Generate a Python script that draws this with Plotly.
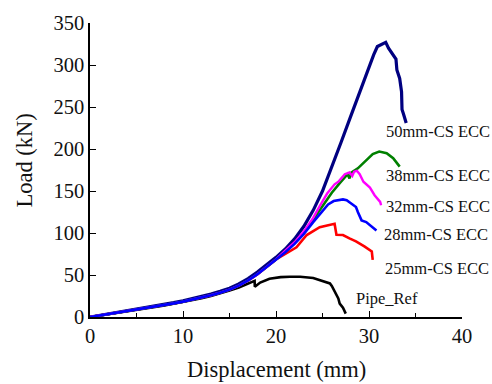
import plotly.graph_objects as go

SERIF = "Liberation Serif, Times New Roman, serif"

# Shared loading branch (displacement mm, load kN) before the specimens diverge
base_disp = [0, 1, 2, 3, 4, 5, 6, 7, 8, 9, 10, 11, 12, 13, 14, 15, 16, 17, 18, 19, 20]
base_load = [0, 1.7, 3.4, 5.1, 6.8, 8.6, 10.4, 12.3, 14.2, 16.2, 18.3, 20.6, 23.1, 25.9, 29.0,
             32.6, 37.3, 43.5, 51, 59.5, 68.5]

# The 50 mm specimen rides on the upper edge of the bundle
cs50_disp = [0, 1, 2, 3, 4, 5, 6, 7, 8, 9, 10, 11, 12, 13, 14, 15, 16, 17, 18, 19, 20, 21, 22, 23, 24,
             25, 26, 27, 28, 29, 30, 30.5, 30.9, 31.4, 31.8, 32.1, 32.5, 32.9, 33.0, 33.3, 33.5, 33.55,
             33.7, 34.0]
cs50_load = [0, 1.8, 3.6, 5.4, 7.2, 9.1, 11.0, 13.0, 15.0, 17.1, 19.3, 21.7, 24.3, 27.2, 30.5, 34.3,
             39.3, 45.8, 53.5, 62, 71, 81, 93, 108, 127, 150, 178, 208, 238, 268, 297, 312, 322, 325,
             327, 320, 313, 307, 294, 284, 268, 247, 242, 231]

cs38_disp = [21, 22, 23, 24, 25.1, 26, 26.9, 27.7, 27.9, 28.1, 28.8, 29.7, 30.4, 31.1, 31.9, 32.6, 33.3]
cs38_load = [78, 88, 100, 116, 134, 148, 160, 170, 165, 172, 177, 187, 194, 197, 195, 189, 179]

cs32_disp = [21, 22, 23, 24, 24.7, 25.5, 26.3, 26.7, 27.4, 27.9, 28.2, 28.4, 28.7, 29.0, 29.4, 30.1,
             30.6, 31.2, 31.3]
cs32_load = [79, 89, 102, 118, 132, 147, 158, 161, 170, 172, 168, 173, 174, 170, 161, 154, 145, 137, 133]

cs28_disp = [21, 22, 23, 24, 25, 25.6, 26.2, 26.7, 27.2, 27.6, 28.1, 28.6, 28.8, 29.2, 29.7, 30.3, 30.8]
cs28_load = [77, 87, 99, 113, 126, 134, 138, 139, 140, 139, 135, 131, 125, 115, 113, 107, 103]

cs25_disp = [21, 22.2, 23.3, 24.7, 25.5, 26.3, 26.5, 27.2, 27.9, 28.6, 29.5, 30.3, 30.4]
cs25_load = [75, 83, 97.6, 107, 109, 111, 98, 97.6, 93.6, 90, 84, 78, 68]

ref_disp = [0, 1, 2, 3, 4, 5, 6, 7, 8, 9, 10, 11, 12, 13, 14, 15, 16, 17, 17.7, 17.72, 18.3, 19.3, 20.5,
            21.5, 22.6, 24, 25.4, 25.8, 26.0, 26.3, 26.7, 26.85, 27.2, 27.5]
ref_load = [0, 1.6, 3.3, 5.0, 6.6, 8.3, 10.1, 11.9, 13.8, 15.7, 17.7, 19.9, 22.3, 25.0, 28.0, 31.4,
            35.2, 39.8, 43, 36, 41, 45.5, 47.5, 48, 48, 46.5, 42, 40, 37, 31, 22, 16, 11, 4]

names = ["50mm-CS ECC", "38mm-CS ECC", "32mm-CS ECC", "28mm-CS ECC", "25mm-CS ECC", "Pipe_Ref"]
label_pos = [(31.6, 221), (31.6, 168), (31.6, 132), (31.4, 98), (31.5, 58), (28.4, 22)]

x_title = "Displacement (mm)"
y_title = "Load (kN)"

fig = go.Figure()


def add_curve(x, y, color, width):
    fig.add_trace(go.Scatter(x=x, y=y, mode="lines",
                             line=dict(color=color, width=width), showlegend=False))


add_curve(base_disp + cs25_disp, base_load + cs25_load, "#ff0000", 2.6)
add_curve(ref_disp, ref_load, "#000000", 2.6)
add_curve(cs50_disp, cs50_load, "#000080", 3.2)
add_curve(base_disp + cs38_disp, base_load + cs38_load, "#008000", 2.6)
add_curve(base_disp + cs32_disp, base_load + cs32_load, "#ff00ff", 2.4)
add_curve(base_disp + cs28_disp, base_load + cs28_load, "#0000ff", 2.6)

for name, (lx, ly) in zip(names, label_pos):
    fig.add_annotation(x=lx, y=ly, text=name, showarrow=False, xanchor="left", yanchor="middle",
                       font=dict(family=SERIF, size=16.5, color="#111111"))

# Axis titles placed as paper-anchored text
fig.add_annotation(x=0.5, y=-0.177, xref="paper", yref="paper", text=x_title, showarrow=False,
                   xanchor="center", yanchor="middle",
                   font=dict(family=SERIF, size=22.5, color="#111111"))
fig.add_annotation(x=-0.175, y=0.532, xref="paper", yref="paper", text=y_title, showarrow=False,
                   textangle=-90, xanchor="center", yanchor="middle",
                   font=dict(family=SERIF, size=22.5, color="#111111"))

axis_common = dict(showline=True, linecolor="black", linewidth=1.5, ticks="inside",
                   tickcolor="black", tickwidth=1.2, ticklen=6, showgrid=False, zeroline=False,
                   mirror=False, tickfont=dict(family=SERIF, size=20.5, color="#111111"))

fig.update_xaxes(range=[0, 40], tick0=0, dtick=10,
                 minor=dict(ticks="inside", dtick=5, ticklen=4, tickcolor="black", tickwidth=1.2),
                 **axis_common)
fig.update_yaxes(range=[0, 350], tick0=0, dtick=50, **axis_common)

fig.update_layout(width=492, height=384, margin=dict(l=90, r=30, t=17, b=67),
                  font=dict(family=SERIF, color="#111111"),
                  paper_bgcolor="white", plot_bgcolor="white")

fig.write_html("out.html")
